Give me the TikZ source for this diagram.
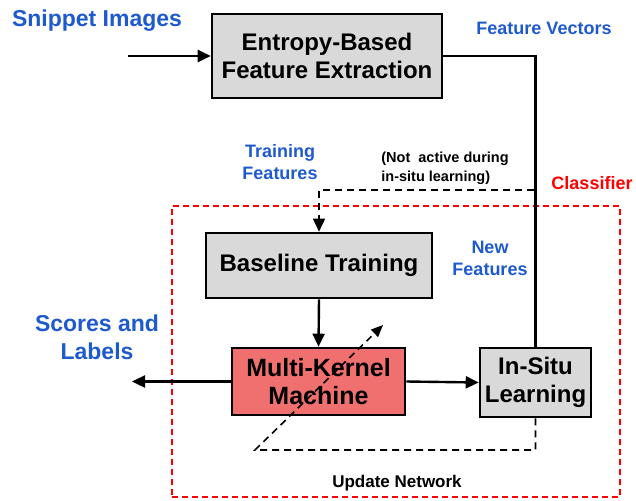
\documentclass[tikz,border=0pt]{standalone}
\usepackage{fontspec}
\setmainfont{Liberation Sans}
\usetikzlibrary{arrows.meta}
\definecolor{lblblue}{RGB}{30,90,205}
\definecolor{boxgray}{RGB}{217,217,217}
\definecolor{mkmred}{RGB}{240,112,112}
\tikzset{
  blockbox/.style={draw, line width=2.6pt, fill=boxgray, align=center, inner sep=0pt, font=\bfseries\fontsize{24}{28}\selectfont},
  bluelbl/.style={text=lblblue, align=center, font=\bfseries\fontsize{18}{22}\selectfont},
  flow/.style={line width=2.4pt, -{Triangle[length=13pt,width=12pt]}},
  dashflow/.style={line width=1.6pt, dashed, dash pattern=on 7pt off 5pt}
}
\begin{document}
\begin{tikzpicture}[x=1pt,y=-1pt]
\useasboundingbox (0,0) rectangle (636,500);
% blocks
\node[blockbox, minimum width=230, minimum height=84] (fe) at (327,56) {Entropy-Based\\Feature Extraction};
\node[blockbox, minimum width=226, minimum height=65] (bt) at (319,265.5) {Baseline Training};
\node[blockbox, fill=mkmred, minimum width=173, minimum height=67, font=\bfseries\fontsize{25}{28}\selectfont] (mkm) at (318.5,381.5) {Multi-Kernel\\Machine};
\node[blockbox, minimum width=111, minimum height=69] (is) at (535.5,382.5) {In-Situ\\Learning};
% classifier frame
\node[draw=red, line width=1.2pt, dash pattern=on 6pt off 4pt, minimum width=448, minimum height=291, inner sep=0pt] (cls) at (396,351.5) {};
% labels
\node[bluelbl, font=\bfseries\fontsize{23}{28}\selectfont] (snip) at (97,21) {Snippet Images};
\node[bluelbl] (fv) at (544,28) {Feature Vectors};
\node[bluelbl] (tf) at (280,162) {Training\\Features};
\node[align=left, font=\bfseries\fontsize{14.5}{19}\selectfont] (na) at (445,168) {(Not\ \ active during\\in-situ learning)};
\node[text=red, font=\bfseries\fontsize{18}{22}\selectfont] (clsl) at (592,183) {Classifier};
\node[bluelbl] (nf) at (490,258) {New\\Features};
\node[bluelbl, font=\bfseries\fontsize{23}{28}\selectfont] (sl) at (97,337) {Scores and\\Labels};
\node[font=\bfseries\fontsize{17}{20}\selectfont] (un) at (397,483) {Update Network};
% free ends
\coordinate (in) at (128,56);
\coordinate (tap) at (534,190);
\coordinate (out) at (132,381.5);
\coordinate (ul) at (255,450);
\coordinate (ue) at (383,325);
% connectors
\draw[flow] (in) -- (fe.west);
\draw[line width=2.4pt] (fe.east) -| (is.north);
\draw[dashflow, -{Triangle[length=13pt,width=12pt]}] (tap) -| (bt.north);
\draw[flow] (bt.south) -- (mkm.north);
\draw[flow] (mkm.west) -- (out);
\draw[flow] (mkm.east) -- (is.west);
\draw[dashflow, -{Triangle[length=12pt,width=10pt]}] (is.south) |- (ul) -- (ue);
\end{tikzpicture}
\end{document}
